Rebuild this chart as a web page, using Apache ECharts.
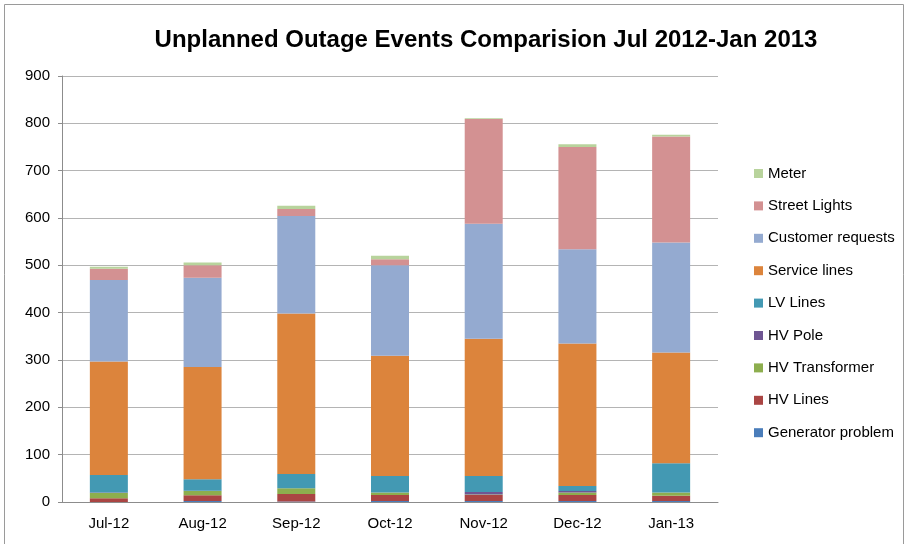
<!DOCTYPE html>
<html>
<head>
<meta charset="utf-8">
<script src="https://cdn.jsdelivr.net/npm/echarts@6/dist/echarts.min.js"></script>
<style>
  html, body { margin: 0; padding: 0; background: #fff; }
  #main { width: 908px; height: 544px; }
</style>
</head>
<body>
<div id="main"></div>
<script>
// months on the x axis
var months = ['Jul-12', 'Aug-12', 'Sep-12', 'Oct-12', 'Nov-12', 'Dec-12', 'Jan-13'];

// values (bottom of the stack first)
var generatorProblem = [0, 2, 1, 2, 2, 2, 2];
var hvLines          = [8, 12, 16, 13, 13, 13, 11];
var hvTransformer    = [11, 9, 12, 5, 1, 5, 7];
var hvPole           = [1, 1, 0, 0, 5, 3, 0];
var lvLines          = [37, 24, 30, 35, 34, 11, 62];
var serviceLines     = [240, 237, 339, 254, 290, 301, 234];
var customerRequests = [172, 189, 206, 191, 243, 199, 232];
var streetLights     = [24, 26, 15, 13, 221, 216, 224];
var meter            = [4, 6, 7, 7, 2, 6, 4];

var yTicks = [0, 100, 200, 300, 400, 500, 600, 700, 800, 900];

var seriesDefs = [
  ['Generator problem', generatorProblem, '#4A7DBA'],
  ['HV Lines', hvLines, '#AA4543'],
  ['HV Transformer', hvTransformer, '#8DAE4E'],
  ['HV Pole', hvPole, '#6F5693'],
  ['LV Lines', lvLines, '#4399B3'],
  ['Service lines', serviceLines, '#DC843C'],
  ['Customer requests', customerRequests, '#94AAD0'],
  ['Street Lights', streetLights, '#D39192'],
  ['Meter', meter, '#B8D39C']
];

var font = 'Liberation Sans, Arial, sans-serif';

var series = seriesDefs.map(function (d) {
  return {
    name: d[0],
    type: 'bar',
    stack: 'total',
    barWidth: 38,
    data: d[1],
    itemStyle: { color: d[2] }
  };
});

var myChart = echarts.init(document.getElementById('main'));
myChart.setOption({
  animation: false,
  backgroundColor: '#fff',
  title: {
    text: 'Unplanned Outage Events Comparision Jul 2012-Jan 2013',
    left: 481,
    top: 23,
    textAlign: 'center',
    textStyle: { fontFamily: font, fontSize: 24, fontWeight: 'bold', color: '#000' }
  },
  graphic: [{
    type: 'rect',
    shape: { x: 4.5, y: 4.5, width: 899, height: 600 },
    style: { fill: 'none', stroke: '#9a9a9a', lineWidth: 1 }
  }],
  legend: {
    orient: 'vertical',
    left: 749,
    top: 161,
    itemWidth: 9,
    itemHeight: 9,
    itemGap: 17.4,
    icon: 'rect',
    data: seriesDefs.map(function (d) { return d[0]; }).reverse(),
    textStyle: { fontFamily: font, fontSize: 15, color: '#000' }
  },
  grid: { left: 62, right: 190, top: 76, bottom: 42 },
  xAxis: {
    type: 'category',
    data: months,
    axisLine: { lineStyle: { color: '#8c8c8c' } },
    axisTick: { show: false },
    axisLabel: { fontFamily: font, fontSize: 15, color: '#000', margin: 14 }
  },
  yAxis: {
    type: 'value',
    min: yTicks[0],
    max: yTicks[yTicks.length - 1],
    interval: 100,
    axisLine: { show: true, lineStyle: { color: '#8c8c8c' } },
    axisTick: { show: true, length: 4, lineStyle: { color: '#8c8c8c' } },
    splitLine: { lineStyle: { color: '#b4b4b4' } },
    axisLabel: { fontFamily: font, fontSize: 15, color: '#000', margin: 12 }
  },
  series: series
});
</script>
</body>
</html>
